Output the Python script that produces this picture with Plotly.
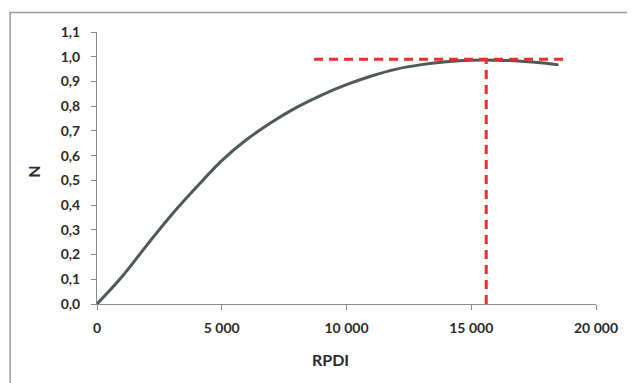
import plotly.graph_objects as go

# Curve data
rpdi = [0, 1000, 2000, 3000, 4000, 5000, 6000, 7000, 8000, 9000, 10000,
        11000, 12000, 13000, 14000, 15000, 16000, 17000, 18000, 18500]
n_vals = [0, 0.11, 0.238, 0.362, 0.474, 0.58, 0.665, 0.735, 0.795, 0.845,
          0.887, 0.922, 0.95, 0.968, 0.98, 0.986, 0.986, 0.982, 0.974, 0.967]

# Red dashed reference lines
h_line_x = [8700, 18800]
h_line_y = [0.99, 0.99]
v_line_x = [15600, 15600]
v_line_y = [0, 0.99]

y_ticks = [0, 0.1, 0.2, 0.3, 0.4, 0.5, 0.6, 0.7, 0.8, 0.9, 1.0, 1.1]
x_ticks = [0, 5000, 10000, 15000, 20000]

red = "#e8302a"
text_col = "#2b2b2b"
axis_col = "#8a8a8a"
font_fam = "Lato, Open Sans, sans-serif"

fig = go.Figure()
fig.add_trace(go.Scatter(x=rpdi, y=n_vals, mode="lines", line_shape="spline",
                         line=dict(color="#4d5a55", width=3), showlegend=False,
                         hoverinfo="skip"))
fig.add_trace(go.Scatter(x=h_line_x, y=h_line_y, mode="lines",
                         line=dict(color=red, width=3, dash="9px,6px"),
                         showlegend=False))
fig.add_trace(go.Scatter(x=v_line_x, y=v_line_y, mode="lines",
                         line=dict(color=red, width=3, dash="9px,6px"),
                         showlegend=False))

tickfont = dict(size=14, family=font_fam, color=text_col, weight="bold")

fig.update_layout(
    width=635, height=383,
    margin=dict(l=89, r=47, t=24, b=87, autoexpand=False),
    paper_bgcolor="white", plot_bgcolor="white",
    separators=", ",
    font=dict(family=font_fam, color=text_col, size=12),
    xaxis=dict(range=[0, 20000], tickvals=x_ticks, tickformat=",d",
               showgrid=False, zeroline=False, showline=True, linecolor=axis_col,
               linewidth=1, ticks="outside", ticklen=5, tickcolor=axis_col,
               ticklabelstandoff=6, tickfont=tickfont),
    yaxis=dict(range=[0, 1.1], tickvals=y_ticks, tickformat=".1f",
               showgrid=False, zeroline=False, showline=True, linecolor=axis_col,
               linewidth=1, ticks="outside", ticklen=5, tickcolor=axis_col,
               ticklabelstandoff=8, tickfont=tickfont),
    annotations=[
        dict(text="<b>RPDI</b>", xref="paper", yref="paper", x=0.468, y=-0.205,
             showarrow=False, xanchor="center", yanchor="middle",
             font=dict(size=16, family=font_fam, color=text_col)),
        dict(text="<b>N</b>", xref="paper", yref="paper", x=-0.129, y=0.485,
             showarrow=False, textangle=-90, xanchor="center", yanchor="middle",
             font=dict(size=16, family=font_fam, color=text_col)),
    ],
    shapes=[
        dict(type="rect", xref="paper", yref="paper", x0=-0.174, x1=1.075,
             y0=-0.35, y1=1.072, line=dict(color="#9a9a9a", width=1.5)),
    ],
)

fig.write_html("out.html")
